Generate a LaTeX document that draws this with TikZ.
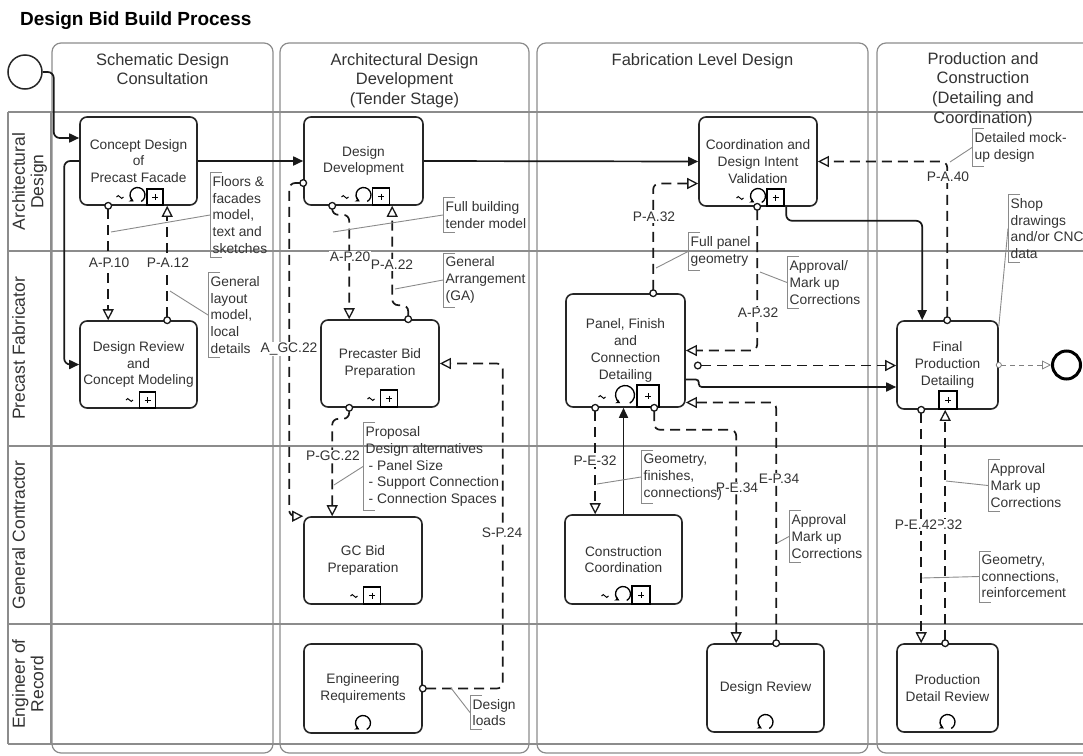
\documentclass[tikz,border=0pt]{standalone}
\usepackage{fontspec}
\setmainfont{Liberation Sans}
\usetikzlibrary{arrows.meta,calc}
\definecolor{lanegray}{HTML}{8C8C8C}
\definecolor{txt}{HTML}{333333}
\definecolor{anngray}{HTML}{8A8A8A}
\newcommand\tasksize{\fontsize{13.7}{16.7}\selectfont}
\newcommand\annsize{\fontsize{13.8}{16.7}\selectfont}
\newcommand\lblsize{\fontsize{13.8}{16}\selectfont}
\newcommand\hdsize{\fontsize{16.5}{19.7}\selectfont}
\newcommand\lanesize{\fontsize{17.5}{18.5}\selectfont}
\newcommand\annbrk[1]{\draw[annline] ($(#1.north west)+(12,0)$) -- (#1.north west) -- (#1.south west) -- ($(#1.south west)+(12,0)$);}
\tikzset{
  pics/loopmk/.style={code={\draw[line width=1.3pt,-{Stealth[length=4.5pt,width=5pt]}] (60:#1) arc[start angle=60,end angle=-240,radius=#1];}},
  pics/plusmk/.style={code={\draw[line width=1.3pt,fill=white] (-#1/2,0) rectangle (#1/2,-#1);
     \draw[line width=0.9pt] (-3,-#1/2) -- (3,-#1/2) (0,-#1/2-3) -- (0,-#1/2+3);}},
  pics/tildemk/.style={code={\draw[line width=1pt] (-3.5,0) sin (-1.75,-1.4) cos (0,0) sin (1.75,1.4) cos (3.5,0);}},
}
\begin{document}
\begin{tikzpicture}[x=1pt,y=-1pt,
  lanel/.style={draw=lanegray,line width=1.2pt},
  phase/.style={draw=lanegray,line width=1.2pt,rounded corners=9pt},
  hdr/.style={anchor=north,align=center,font=\hdsize,text=txt,inner sep=0pt},
  lanetxt/.style={rotate=90,anchor=north,align=center,font=\lanesize,text=txt,inner sep=0pt},
  task/.style={draw=black!85,line width=1.6pt,rounded corners=7pt,fill=white,align=center,font=\tasksize,text=txt,inner sep=0pt},
  seq/.style={draw=black!90,line width=1.7pt,rounded corners=6pt,arrows={-Triangle[length=10pt,width=9pt]}},
  msg/.style={draw=black!90,line width=1.7pt,dash pattern=on 10pt off 6pt,rounded corners=6pt,
     arrows={Circle[length=8pt,width=8pt,fill=white,line width=1.3pt]-Triangle[length=11pt,width=11pt,fill=white,line width=1.3pt]},shorten <=-4pt},
  endmsg/.style={draw=gray,line width=1pt,dash pattern=on 5pt off 4pt,
     arrows={Circle[length=6pt,width=6pt,fill=white,line width=0.8pt]-Triangle[length=9pt,width=9pt,fill=white,line width=0.8pt]},shorten <=-3pt},
  flabel/.style={fill=white,inner sep=1pt,font=\lblsize,text=txt},
  ann/.style={anchor=west,align=left,font=\annsize,text=txt,inner xsep=2.5pt,inner ysep=3.7pt},
  annline/.style={draw=anngray,line width=0.9pt},
]
\useasboundingbox (0,0) rectangle (1083,755);
\clip (0,0) rectangle (1083,755);

% title
\node[anchor=base west,font=\bfseries\fontsize{19}{21}\selectfont,inner sep=0pt] (title) at (20,25) {Design Bid Build Process};

% phases
\draw[phase] (52,43) rectangle (273,753);
\draw[phase] (280,43) rectangle (529,753);
\draw[phase] (537,43) rectangle (868,753);
\draw[phase] (877,43) rectangle (1094,753);

% lanes
\foreach \yy in {112,251,446,624,744} \draw[lanel] (8,\yy) -- (1083,\yy);
\draw[lanel] (8,112) -- (8,744);
\draw[lanel] (51,112) -- (51,744);

% headers
\node[hdr] (h1) at (162.5,53) {Schematic Design\\Consultation};
\node[hdr] (h2) at (404.5,53) {Architectural Design\\Development\\(Tender Stage)};
\node[hdr] (h3) at (702.5,53) {Fabrication Level Design};
\node[hdr] (h4) at (983,52) {Production and\\Construction\\(Detailing and\\Coordination)};

\node[lanetxt] (l1) at (12,181.5) {Architectural\\Design};
\node[lanetxt] (l2) at (12,348.5) {Precast Fabricator};
\node[lanetxt] (l3) at (12,535) {General Contractor};
\node[lanetxt] (l4) at (12,684) {Engineer of\\Record};

% events
\node[circle,draw=black!85,line width=1.5pt,minimum size=34pt,inner sep=0pt] (start) at (25,72) {};
\node[circle,draw=black,line width=3pt,minimum size=28pt,inner sep=0pt] (endev) at (1066.5,365) {};

% tasks
\node[task,minimum width=117pt,minimum height=88pt] (cd) at (138.5,161) {Concept Design\\of\\Precast Facade};
\node[task,minimum width=117pt,minimum height=87pt] (drcm) at (138.5,364.5) {Design Review\\and\\Concept Modeling};
\node[task,minimum width=119pt,minimum height=88pt] (dd) at (363.5,161) {Design\\Development};
\node[task,minimum width=118pt,minimum height=87pt] (pbp) at (380,363.5) {Precaster Bid\\Preparation};
\node[task,minimum width=118pt,minimum height=87pt] (gcb) at (363,560.5) {GC Bid\\Preparation};
\node[task,minimum width=118pt,minimum height=89pt] (er) at (363,688.5) {Engineering\\Requirements};
\node[task,minimum width=118pt,minimum height=89pt] (cdiv) at (758,161.5) {Coordination and\\Design Intent\\Validation};
\node[task,minimum width=119pt,minimum height=113pt] (pfcd) at (625.5,350.5) {Panel, Finish\\and\\Connection\\Detailing};
\node[task,minimum width=117pt,minimum height=89pt] (cc) at (623.5,559.5) {Construction\\Coordination};
\node[task,minimum width=117pt,minimum height=88pt] (drv) at (765.5,688) {Design Review};
\node[task,minimum width=101pt,minimum height=88pt] (fpd) at (947.5,365) {Final\\Production\\Detailing};
\node[task,minimum width=101pt,minimum height=88pt] (pdr) at (947.5,688) {Production\\Detail Review};

% markers
\pic at (120,197) {tildemk}; \pic at (137.5,195) {loopmk=7.5}; \pic at (155,205) {plusmk=16};
\pic at (129.5,400) {tildemk}; \pic at (147.5,408) {plusmk=16};
\pic at (345,197) {tildemk}; \pic at (363.5,195) {loopmk=7.5}; \pic at (381,205) {plusmk=17};
\pic at (371,399) {tildemk}; \pic at (389,407) {plusmk=17};
\pic at (354,596) {tildemk}; \pic at (372,604) {plusmk=17};
\pic at (363,723) {loopmk=7.5};
\pic at (740,198) {tildemk}; \pic at (758,196) {loopmk=7.5}; \pic at (775.5,206) {plusmk=17};
\pic at (602,397) {tildemk}; \pic at (625,395) {loopmk=9.5}; \pic at (648,407) {plusmk=22};
\pic at (605,596) {tildemk}; \pic at (623,594) {loopmk=7.5}; \pic at (641,604) {plusmk=18};
\pic at (765.5,722) {loopmk=7.5};
\pic at (948,409) {plusmk=18};
\pic at (947.5,722) {loopmk=7.5};

% sequence flows
\draw[seq] (start.east) -- ++(11,0) |- ($(cd.west)+(0,-23)$);
\draw[seq] (cd.west) -- ++(-15,0) |- (drcm.west);
\draw[seq] (cd.east) -- (dd.west);
\draw[seq] (dd.east) -- (cdiv.west);
\draw[seq] ($(cdiv.south west)+(88,0)$) -- ++(0,14) -| ($(fpd.north west)+(26,0)$);
\draw[seq,rounded corners=3pt] ($(pfcd.east)+(0,29)$) -- ++(13,0) |- ($(fpd.west)+(0,22)$);
\draw[seq] (cc.north) -- (cc.north |- pfcd.south);

% message flows
\draw[msg] ($(cd.south west)+(29,0)$) -- ($(drcm.north west)+(29,0)$);
\draw[msg] ($(drcm.north west)+(88,0)$) -- ($(cd.south west)+(88,0)$);
\draw[msg] ($(dd.south west)+(29,0)$) -- ++(0,9) -| ($(pbp.north west)+(29,0)$);
\draw[msg] ($(pbp.north west)+(88,0)$) -- ++(0,-14) -| ($(dd.south west)+(89,0)$);
\draw[msg] ($(dd.west)+(0,22)$) -- ++(-14,0) |- (gcb.north west);
\draw[msg] ($(pbp.south west)+(29,0)$) -- ++(0,11) -| ($(gcb.north west)+(29,0)$);
\draw[msg] (er.east) -- ++(80,0) |- (pbp.east);
\draw[msg] ($(pfcd.north west)+(88,0)$) |- ($(cdiv.west)+(0,22)$);
\draw[msg] ($(cdiv.south west)+(59,0)$) |- (pfcd.east);
\coordinate (pm) at ($(pfcd.east)+(12,15)$);
\draw[msg] (pm) -- (pm -| fpd.west);
\draw[msg] ($(pfcd.south west)+(30,0)$) -- ($(cc.north west)+(31,0)$);
\draw[msg] ($(pfcd.south west)+(89,0)$) -- ++(0,22) -| ($(drv.north west)+(30,0)$);
\draw[msg] ($(drv.north west)+(70,0)$) |- ($(pfcd.east)+(0,52)$);
\draw[msg] ($(fpd.north west)+(51,0)$) |- (cdiv.east);
\draw[msg] ($(fpd.south west)+(25,0)$) -- ($(pdr.north west)+(25,0)$);
\draw[msg] ($(pdr.north west)+(49,0)$) -- ($(fpd.south west)+(49,0)$);
\draw[endmsg] (fpd.east) -- (endev.west);

% flow labels
\node[flabel] (t1) at (109,263) {A-P.10};
\node[flabel] (t2) at (168,263) {P-A.12};
\node[flabel] (t3) at (350,257) {A-P.20};
\node[flabel] (t4) at (392,265) {P-A.22};
\node[flabel] (t5) at (289,349) {A\_GC.22};
\node[flabel] (t6) at (333,456) {P-GC.22};
\node[flabel] (t7) at (502,533) {S-P.24};
\node[flabel] (t8) at (654,217) {P-A.32};
\node[flabel] (t9) at (758,313) {A-P.32};
\node[flabel] (t10) at (595,461) {P-E-32};
\node[flabel] (t11) at (737,488) {P-E.34};
\node[flabel] (t12) at (779,479) {E-P.34};
\node[flabel] (t13) at (948,177) {P-A.40};
\node[flabel] (t14) at (942,525) {E-P.32};
\node[flabel] (t15) at (916,525) {P-E.42};

% annotations
\node[ann] (a1) at (210,215) {Floors \&\\facades\\model,\\text and\\sketches};
\node[ann] (a2) at (208,315) {General\\layout\\model,\\local\\details};
\node[ann] (a3) at (443,215) {Full building\\tender model};
\node[ann] (a4) at (443,280) {General\\Arrangement\\(GA)};
\node[ann] (a5) at (363,466.5) {Proposal\\Design alternatives\\\hspace{3pt}- Panel Size\\\hspace{3pt}- Support Connection\\\hspace{3pt}- Connection Spaces};
\node[ann] (a6) at (470,712.5) {Design\\loads};
\node[ann] (a7) at (688,251.5) {Full panel\\geometry};
\node[ann] (a8) at (787,282.5) {Approval/\\Mark up\\Corrections};
\node[ann] (a9) at (641,477) {Geometry,\\finishes,\\connections)};
\node[ann] (a10) at (789,536.5) {Approval\\Mark up\\Corrections};
\node[ann] (a11) at (972,147.5) {Detailed mock-\\up design};
\node[ann] (a12) at (1008,228.5) {Shop\\drawings\\and/or CNC\\data};
\node[ann] (a13) at (988,485.5) {Approval\\Mark up\\Corrections};
\node[ann] (a14) at (979,576.5) {Geometry,\\connections,\\reinforcement};
\foreach \n in {a1,a2,a3,a4,a5,a6,a7,a8,a9,a10,a11,a12,a13,a14} {\annbrk{\n}}

\coordinate (q1) at (111,232);
\coordinate (q2) at (170,291);
\coordinate (q3) at (333,232);
\coordinate (q4) at (395,289);
\coordinate (q5) at (334,485);
\coordinate (q6) at (451,688);
\coordinate (q7) at (656,268);
\coordinate (q8) at (760,272);
\coordinate (q9) at (597,484);
\coordinate (q10) at (777,543);
\coordinate (q11) at (950,162);
\coordinate (q12) at ($(fpd.north east)+(0,6)$);
\coordinate (q13) at (946,481);
\coordinate (q14) at (922,578);
\foreach \n/\q in {a1/q1,a2/q2,a3/q3,a4/q4,a5/q5,a6/q6,a7/q7,a8/q8,a9/q9,a10/q10,a11/q11,a12/q12,a13/q13,a14/q14} {\draw[annline] (\n.west) -- (\q);}
\end{tikzpicture}
\end{document}
